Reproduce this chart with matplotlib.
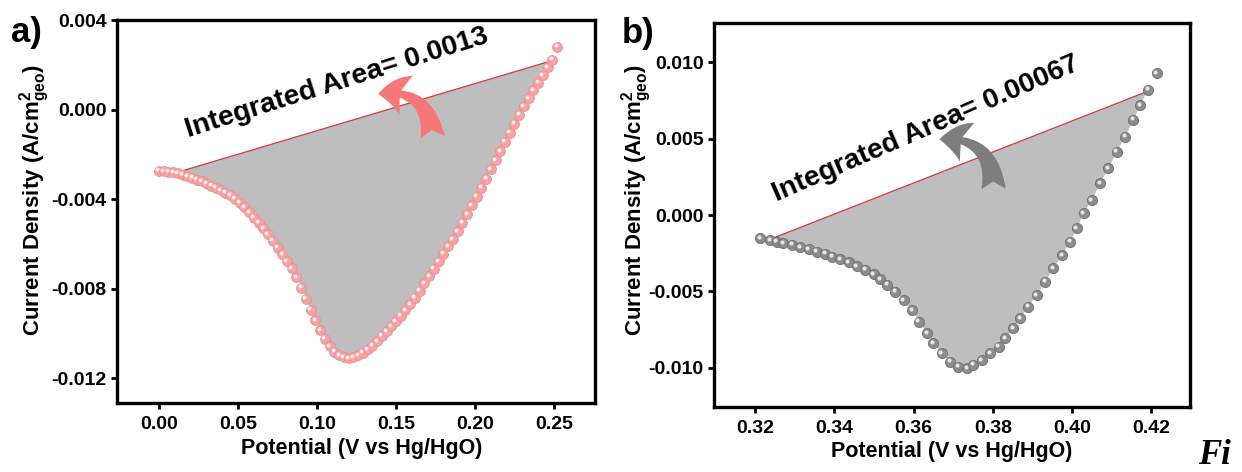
import matplotlib
matplotlib.use("Agg")
import matplotlib.pyplot as plt
import numpy as np
from matplotlib.patches import FancyArrowPatch
from matplotlib.transforms import offset_copy

plt.rcParams["font.family"] = ["Liberation Sans", "DejaVu Sans"]
plt.rcParams["font.weight"] = "bold"
plt.rcParams["mathtext.fontset"] = "custom"
plt.rcParams["mathtext.rm"] = "Liberation Sans:bold"
plt.rcParams["mathtext.it"] = "Liberation Sans:bold"
plt.rcParams["mathtext.bf"] = "Liberation Sans:bold"

# panel a: LSV points, potential (V vs Hg/HgO) and current density (A/cm2)
pot_a = [0.000, 0.003, 0.006, 0.009, 0.012, 0.015, 0.018, 0.021, 0.024, 0.027,
         0.030, 0.033, 0.036, 0.039, 0.042, 0.045, 0.048, 0.051, 0.054, 0.057,
         0.060, 0.063, 0.066, 0.069, 0.072, 0.075, 0.078, 0.081, 0.084, 0.087,
         0.090, 0.093, 0.096, 0.099, 0.102, 0.105, 0.108, 0.111, 0.114, 0.117,
         0.120, 0.123, 0.126, 0.129, 0.132, 0.135, 0.138, 0.141, 0.144, 0.147,
         0.150, 0.153, 0.156, 0.159, 0.162, 0.165, 0.168, 0.171, 0.174, 0.177,
         0.180, 0.183, 0.186, 0.189, 0.192, 0.195, 0.198, 0.201, 0.204, 0.207,
         0.210, 0.213, 0.216, 0.219, 0.222, 0.225, 0.228, 0.231, 0.234, 0.237,
         0.240, 0.243, 0.246, 0.249, 0.252]
cur_a = [-0.00273, -0.00274, -0.00276, -0.00279, -0.00283, -0.00289, -0.00296, -0.00303, -0.00311, -0.00319,
         -0.00328, -0.00338, -0.00348, -0.00358, -0.00369, -0.00382, -0.00396, -0.00414, -0.00434, -0.00457,
         -0.00481, -0.00505, -0.00529, -0.00555, -0.00585, -0.00615, -0.00645, -0.00676, -0.00708, -0.00748,
         -0.00795, -0.00845, -0.00893, -0.00940, -0.00985, -0.01023, -0.01056, -0.01080, -0.01097, -0.01106,
         -0.01110, -0.01106, -0.01097, -0.01085, -0.01070, -0.01053, -0.01033, -0.01010, -0.00990, -0.00968,
         -0.00945, -0.00921, -0.00896, -0.00869, -0.00840, -0.00808, -0.00775, -0.00743, -0.00710, -0.00677,
         -0.00643, -0.00610, -0.00577, -0.00542, -0.00505, -0.00466, -0.00427, -0.00388, -0.00348, -0.00307,
         -0.00266, -0.00225, -0.00184, -0.00143, -0.00102, -0.00061, -0.00022, 0.00017, 0.00053, 0.00088,
         0.00122, 0.00156, 0.00190, 0.00225, 0.00282]
base_a = ([0.011, 0.2475], [-0.00280, 0.00218])
area_a = "0.0013"

# panel b
pot_b = [0.3213, 0.3238, 0.3255, 0.3271, 0.3293, 0.3314, 0.3335, 0.3356, 0.3377, 0.3394,
         0.3415, 0.3436, 0.3457, 0.3478, 0.3499, 0.3516, 0.3533, 0.3554, 0.3575, 0.3596,
         0.3613, 0.3634, 0.3650, 0.3671, 0.3692, 0.3713, 0.3735, 0.3751, 0.3772, 0.3793,
         0.3815, 0.3831, 0.3852, 0.3869, 0.3890, 0.3911, 0.3932, 0.3953, 0.3975, 0.3995,
         0.4012, 0.4029, 0.4050, 0.4071, 0.4092, 0.4113, 0.4134, 0.4155, 0.4172, 0.4193,
         0.4214]
cur_b = [-0.00153, -0.00164, -0.00175, -0.00186, -0.00196, -0.00212, -0.00225, -0.00240, -0.00255, -0.00273,
         -0.00290, -0.00310, -0.00334, -0.00360, -0.00389, -0.00421, -0.00458, -0.00502, -0.00557, -0.00622,
         -0.00699, -0.00775, -0.00840, -0.00906, -0.00960, -0.00993, -0.01004, -0.00982, -0.00950, -0.00906,
         -0.00862, -0.00808, -0.00742, -0.00677, -0.00600, -0.00524, -0.00437, -0.00349, -0.00262, -0.00175,
         -0.00087, 0.00011, 0.00098, 0.00208, 0.00306, 0.00415, 0.00513, 0.00622, 0.00720, 0.00819,
         0.00928]
base_b = ([0.3246, 0.4189], [-0.00150, 0.00808])
area_b = "0.00067"

fig = plt.figure(figsize=(12.42, 4.72), dpi=100)
ax_a = fig.add_axes([0.0942, 0.1462, 0.3849, 0.8104])
ax_b = fig.add_axes([0.5749, 0.1383, 0.3833, 0.8123])


def sphere(ax, x, y, face, edge, size):
    ax.scatter(x, y, s=size, color=face, edgecolors=edge, linewidths=0.6, zorder=4)
    shine = offset_copy(ax.transData, fig=ax.figure, x=-1.1, y=1.1, units="points")
    ax.scatter(x, y, s=size * 0.16, color="white", alpha=0.8, linewidths=0,
               transform=shine, zorder=5)


def panel(ax, pot, cur, base, face, edge, size, arrow_col, tail, tip, text_xy, angle, area):
    pot = np.asarray(pot)
    cur = np.asarray(cur)
    (x0, x1), (y0, y1) = base
    inside = (pot > x0) & (pot < x1)
    ax.fill(np.r_[x0, pot[inside], x1], np.r_[y0, cur[inside], y1],
            color="#BEBEBE", lw=0, zorder=1)
    ax.plot([x0, x1], [y0, y1], color="#D8383C", lw=0.9, zorder=2)
    arr = FancyArrowPatch(tail, tip, connectionstyle="arc3,rad=0.55",
                          arrowstyle="fancy,head_length=0.8,head_width=1.2,tail_width=0.7",
                          mutation_scale=25, color=arrow_col, lw=0, zorder=3)
    ax.add_patch(arr)
    sphere(ax, pot, cur, face, edge, size)
    ax.text(text_xy[0], text_xy[1], f"Integrated Area= {area}", rotation=angle,
            rotation_mode="anchor", ha="left", va="baseline", fontsize=20.3,
            fontweight="bold", zorder=6)

    for s in ax.spines.values():
        s.set_linewidth(2.4)
    ax.tick_params(direction="out", length=4.5, width=2, labelsize=14, pad=3)
    ax.tick_params(axis="x", pad=5)
    ax.set_xlabel("Potential (V vs Hg/HgO)", fontsize=15.5, fontweight="bold")
    ax.set_ylabel(r"Current Density (A/cm$^{2}_{geo}$)", fontsize=16, fontweight="bold")


panel(ax_a, pot_a, cur_a, base_a, "#F5A3A3", "#EE8E8E", 50, "#F57777",
      (0.1734, -0.00134), (0.137, 0.00070), (0.0184, -0.0012), 17.5, area_a)
ax_a.set_xlim(-0.0266, 0.276)
ax_a.set_ylim(-0.0131, 0.0040)
ax_a.set_xticks([0.00, 0.05, 0.10, 0.15, 0.20, 0.25])
ax_a.set_xticklabels(["0.00", "0.05", "0.10", "0.15", "0.20", "0.25"])
ax_a.set_yticks([0.004, 0.000, -0.004, -0.008, -0.012])
ax_a.set_yticklabels(["0.004", "0.000", "-0.004", "-0.008", "-0.012"])
ax_a.yaxis.set_label_coords(-0.136, 0.53)
ax_a.xaxis.set_label_coords(0.512, -0.092)

panel(ax_b, pot_b, cur_b, base_b, "#8C8C8C", "#6F6F6F", 54, "#7E7E7E",
      (0.3802, 0.00153), (0.3658, 0.00495), (0.3255, 0.0009), 23.5, area_b)
ax_b.set_xlim(0.3096, 0.4298)
ax_b.set_ylim(-0.01255, 0.01255)
ax_b.set_xticks([0.32, 0.34, 0.36, 0.38, 0.40, 0.42])
ax_b.set_xticklabels(["0.32", "0.34", "0.36", "0.38", "0.40", "0.42"])
ax_b.set_yticks([0.010, 0.005, 0.000, -0.005, -0.010])
ax_b.set_yticklabels(["0.010", "0.005", "0.000", "-0.005", "-0.010"])
ax_b.yaxis.set_label_coords(-0.126, 0.54)
ax_b.xaxis.set_label_coords(0.5, -0.089)

fig.text(0.009, 0.932, "a)", fontsize=25, fontweight="bold", va="center")
fig.text(0.501, 0.928, "b)", fontsize=25, fontweight="bold", va="center")
fig.text(0.965, 0.036, "Fi", fontsize=25, fontweight="bold", fontstyle="italic",
         family="Liberation Serif", va="center")

fig.savefig("out.png", dpi=100)
